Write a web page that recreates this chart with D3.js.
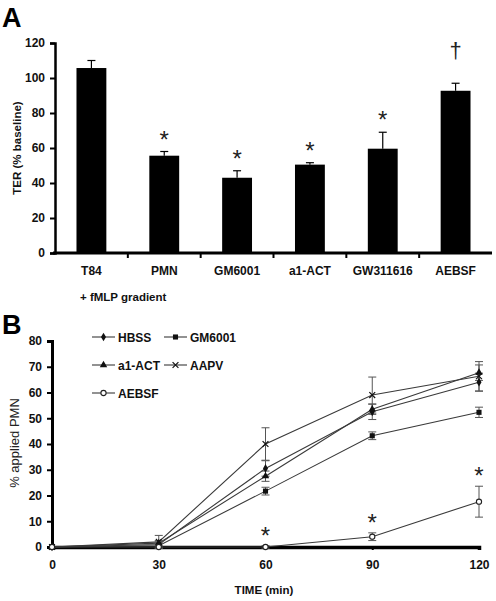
<!DOCTYPE html>
<html><head><meta charset="utf-8">
<script src="https://cdn.jsdelivr.net/npm/d3@7"></script>
<style>
body{margin:0;background:#fff;}
svg{display:block;font-family:"Liberation Sans",Arial,sans-serif;}
</style></head>
<body><svg id="c" width="496" height="601"></svg>
<script>
// Panel A data
const categoriesA = ["T84","PMN","GM6001","a1-ACT","GW311616","AEBSF"];
const terValues = [105.7, 55.6, 43, 50.5, 59.6, 92.7];
const terErrors = [4.3, 2.4, 4, 1.1, 9.4, 4.3];
const terMarks = ["", "*", "*", "*", "*", "†"];
const ticksA = [0,20,40,60,80,100,120];

// Panel B data
const times = [0,30,60,90,120];
const hbss = [0, 1, 30.5, 52.5, 64];
const hbssErr = [0, 1, 3, 3, 3.5];
const gm6001 = [0, 0.5, 21.7, 43.2, 52.3];
const gm6001Err = [0, 1, 1.5, 1.5, 2];
const a1act = [0, 1.5, 27.5, 53.5, 67.7];
const a1actErr = [0, 1, 2, 2, 3];
const aapv = [0, 2, 40, 59, 66.3];
const aapvErr = [0, 2.5, 6.3, 7, 5.7];
const aebsf = [0, 0, 0, 4, 17.6];
const aebsfErr = [0, 0, 0.5, 1.5, 6];
const aebsfMarks = ["", "", "*", "*", "*"];
const ticksBy = [0,10,20,30,40,50,60,70,80];
const ticksBx = [0,30,60,90,120];

const svg = d3.select("#c");

// ---------- Panel A ----------
const xA = d3.scaleBand().domain(categoriesA).range([55,492]).paddingInner(0.59).paddingOuter(0.295);
const yA = d3.scaleLinear().domain([0,120]).range([253,43]);

svg.append("text").attr("x",2).attr("y",27).attr("font-size",27).attr("font-weight","bold").text("A");

const gA = svg.append("g");
gA.selectAll("rect.bar").data(categoriesA).join("rect")
  .attr("x",d=>xA(d)).attr("width",xA.bandwidth())
  .attr("y",(d,i)=>yA(terValues[i])).attr("height",(d,i)=>yA(0)-yA(terValues[i]))
  .attr("fill","#000");
categoriesA.forEach((c,i)=>{
  const cx = xA(c)+xA.bandwidth()/2;
  gA.append("line").attr("x1",cx).attr("x2",cx).attr("y1",yA(terValues[i])).attr("y2",yA(terValues[i]+terErrors[i])).attr("stroke","#000").attr("stroke-width",1.2);
  gA.append("line").attr("x1",cx-4).attr("x2",cx+4).attr("y1",yA(terValues[i]+terErrors[i])).attr("y2",yA(terValues[i]+terErrors[i])).attr("stroke","#000").attr("stroke-width",1.2);
  if (terMarks[i]) {
    const top = yA(terValues[i]+terErrors[i]);
    if (terMarks[i]==="*") {
      gA.append("text").attr("x",cx).attr("y",top-4).attr("text-anchor","middle").attr("font-size",24).attr("fill","#222").text("*");
    } else {
      gA.append("text").attr("x",cx).attr("y",top-25).attr("text-anchor","middle").attr("font-size",22).attr("fill","#222").text("†");
    }
  }
});
const axYA = d3.axisLeft(yA).tickValues(ticksA).tickSize(5).tickPadding(5);
const gyA = gA.append("g").attr("transform","translate(55,0)").call(axYA);
gyA.select(".domain").attr("stroke-width",2.5);
gyA.selectAll(".tick line").attr("stroke-width",2);
gyA.selectAll("text").attr("font-size",12).attr("font-weight","bold").attr("font-family","Liberation Sans, Arial, sans-serif").attr("fill","#111");
const axXA = d3.axisBottom(xA).tickSize(0).tickPadding(13);
const gxA = gA.append("g").attr("transform","translate(0,253)").call(axXA);
gxA.select(".domain").attr("stroke-width",3).attr("d","M53,0H492");
gxA.selectAll("text").attr("font-size",12).attr("font-weight","bold").attr("font-family","Liberation Sans, Arial, sans-serif").attr("fill","#111");
const step = xA.step();
d3.range(1,6).forEach(k=>{
  const bx = 55 + k*step;
  gA.append("line").attr("x1",bx).attr("x2",bx).attr("y1",253).attr("y2",258).attr("stroke","#000").attr("stroke-width",2);
});
svg.append("text").attr("transform","translate(21,148) rotate(-90)").attr("text-anchor","middle")
  .attr("font-size",11.5).attr("font-weight","bold").attr("fill","#111").text("TER (% baseline)");
svg.append("text").attr("x",80).attr("y",301).attr("font-size",11.5).attr("font-weight","bold").attr("fill","#111").text("+ fMLP gradient");

// ---------- Panel B ----------
const xB = d3.scaleLinear().domain([0,120]).range([52,479]);
const yB = d3.scaleLinear().domain([0,80]).range([547,341]);
svg.append("text").attr("x",2).attr("y",334).attr("font-size",27).attr("font-weight","bold").text("B");

const gB = svg.append("g");
const axYB = d3.axisLeft(yB).tickValues(ticksBy).tickSize(5).tickPadding(5);
const gyB = gB.append("g").attr("transform","translate(52,0)").call(axYB);
gyB.select(".domain").attr("stroke-width",3);
gyB.selectAll(".tick line").attr("stroke-width",2);
gyB.selectAll("text").attr("font-size",12).attr("font-weight","bold").attr("font-family","Liberation Sans, Arial, sans-serif").attr("fill","#111");
const axXB = d3.axisBottom(xB).tickValues(ticksBx).tickSize(3).tickPadding(10);
const gxB = gB.append("g").attr("transform","translate(0,547)").call(axXB);
gxB.select(".domain").attr("stroke-width",3.5);
gxB.selectAll(".tick line").attr("stroke-width",2);
gxB.selectAll("text").attr("font-size",12).attr("font-weight","bold").attr("font-family","Liberation Sans, Arial, sans-serif").attr("fill","#111");

svg.append("text").attr("transform","translate(19,443) rotate(-90)").attr("text-anchor","middle")
  .attr("font-size",13).attr("fill","#222").text("% applied PMN");
svg.append("text").attr("x",264).attr("y",594).attr("text-anchor","middle").attr("font-size",11.5).attr("font-weight","bold").attr("fill","#111").text("TIME (min)");

const series = [
  {name:"HBSS", v:hbss, e:hbssErr, m:"diamond"},
  {name:"GM6001", v:gm6001, e:gm6001Err, m:"square"},
  {name:"a1-ACT", v:a1act, e:a1actErr, m:"triangle"},
  {name:"AAPV", v:aapv, e:aapvErr, m:"x"},
  {name:"AEBSF", v:aebsf, e:aebsfErr, m:"circle"}
];
const lineCol = "#3a3a3a";
function drawMarker(g, type, x, y){
  if(type==="diamond") g.append("path").attr("d",d3.symbol(d3.symbolDiamond,22)()).attr("transform",`translate(${x},${y})`).attr("fill","#111");
  else if(type==="square") g.append("path").attr("d",d3.symbol(d3.symbolSquare,26)()).attr("transform",`translate(${x},${y})`).attr("fill","#111");
  else if(type==="triangle") g.append("path").attr("d",d3.symbol(d3.symbolTriangle,24)()).attr("transform",`translate(${x},${y})`).attr("fill","#111");
  else if(type==="x") g.append("path").attr("d",d3.symbol(d3.symbolCross2 || d3.symbolX,24)()).attr("transform",`translate(${x},${y})`).attr("fill","none").attr("stroke","#111").attr("stroke-width",1.2);
  else if(type==="circle") g.append("circle").attr("cx",x).attr("cy",y).attr("r",2.6).attr("fill","#fff").attr("stroke","#222").attr("stroke-width",1.1);
}
const line = d3.line().x((d,i)=>xB(times[i])).y(d=>yB(d));
series.forEach(s=>{
  gB.append("path").attr("d",line(s.v)).attr("fill","none").attr("stroke",lineCol).attr("stroke-width",1.1);
});
series.forEach(s=>{
  s.v.forEach((v,i)=>{
    if(s.e[i]>0.3){
      const cx = xB(times[i]);
      const y1 = yB(v-s.e[i]), y2 = yB(v+s.e[i]);
      gB.append("line").attr("x1",cx).attr("x2",cx).attr("y1",y1).attr("y2",y2).attr("stroke","#555").attr("stroke-width",1);
      [y1,y2].forEach(yy=>gB.append("line").attr("x1",cx-4).attr("x2",cx+4).attr("y1",yy).attr("y2",yy).attr("stroke","#555").attr("stroke-width",1));
    }
  });
});
series.forEach(s=>{
  s.v.forEach((v,i)=>drawMarker(gB, s.m, xB(times[i]), yB(v)));
});
aebsfMarks.forEach((mk,i)=>{
  if(!mk) return;
  const top = yB(aebsf[i]+aebsfErr[i]);
  gB.append("text").attr("x",xB(times[i])).attr("y",top-2).attr("text-anchor","middle").attr("font-size",24).attr("fill","#222").text(mk);
});

const legendPos = [[92,337],[164,337],[92,365],[164,365],[92,393]];
series.forEach((s,i)=>{
  const [lx,ly] = legendPos[i];
  const lg = svg.append("g");
  lg.append("line").attr("x1",lx).attr("x2",lx+23).attr("y1",ly).attr("y2",ly).attr("stroke",lineCol).attr("stroke-width",1.1);
  drawMarker(lg, s.m, lx+11.5, ly);
  lg.append("text").attr("x",lx+26).attr("y",ly+4.5).attr("font-size",12).attr("font-weight","bold").attr("fill","#111").text(s.name);
});
</script>
</body></html>
